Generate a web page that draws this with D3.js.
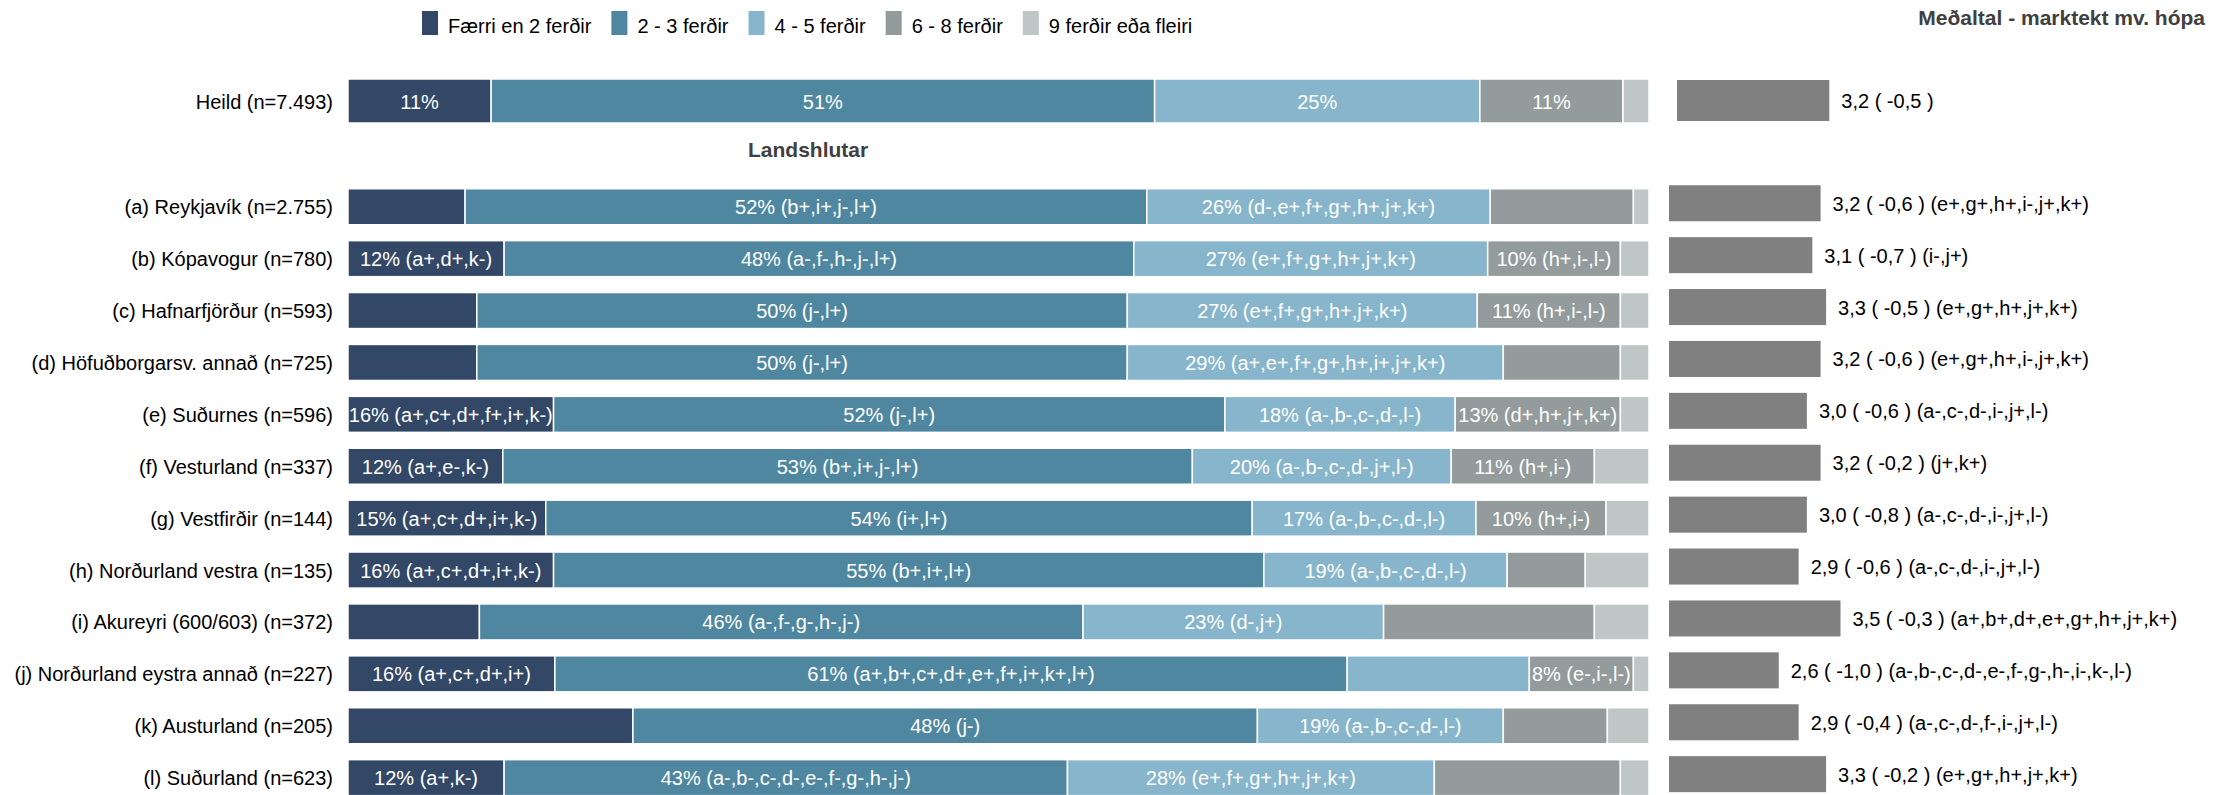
<!DOCTYPE html>
<html>
<head>
<meta charset="utf-8">
<script src="https://d3js.org/d3.v7.min.js"></script>
<style>
body { margin: 0; background: #fff; overflow: hidden; }
text { font-family: "Liberation Sans", Arial, sans-serif; }
</style>
</head>
<body>
<svg id="chart" width="2220" height="795"></svg>
<script>
// categories of the stacked bars
var categories = ["Færri en 2 ferðir", "2 - 3 ferðir", "4 - 5 ferðir", "6 - 8 ferðir", "9 ferðir eða fleiri"];

var heildLabel = "Heild (n=7.493)";
var heildShares = [11, 51, 25, 11, 2];
var heildNotes = ["", "", "", "", null];
var heildMean = 3.22;
var heildChange = -0.5;

var rowLabels = [
	"(a) Reykjavík (n=2.755)",
	"(b) Kópavogur (n=780)",
	"(c) Hafnarfjörður (n=593)",
	"(d) Höfuðborgarsv. annað (n=725)",
	"(e) Suðurnes (n=596)",
	"(f) Vesturland (n=337)",
	"(g) Vestfirðir (n=144)",
	"(h) Norðurland vestra (n=135)",
	"(i) Akureyri (600/603) (n=372)",
	"(j) Norðurland eystra annað (n=227)",
	"(k) Austurland (n=205)",
	"(l) Suðurland (n=623)"
];

// percent per category, one row per region
var shares = [
	[9.0, 52.4, 26.4, 11.0, 1.2],
	[12.0, 48.4, 27.2, 10.2, 2.2],
	[9.9, 50.0, 26.9, 11.0, 2.2],
	[9.9, 50.0, 28.9, 9.0, 2.2],
	[15.8, 51.6, 17.7, 12.7, 2.2],
	[11.9, 53.0, 19.9, 11.0, 4.2],
	[15.2, 54.3, 17.2, 10.0, 3.3],
	[15.8, 54.6, 18.7, 6.0, 4.9],
	[10.1, 46.4, 23.1, 16.2, 4.2],
	[15.9, 60.9, 14.0, 8.0, 1.2],
	[21.9, 48.0, 18.9, 8.0, 3.2],
	[12.0, 43.3, 28.2, 14.3, 2.2]
];

// significance notes inside segments (null = no label)
var segNotes = [
	[null, "(b+,i+,j-,l+)", "(d-,e+,f+,g+,h+,j+,k+)", null, null],
	["(a+,d+,k-)", "(a-,f-,h-,j-,l+)", "(e+,f+,g+,h+,j+,k+)", "(h+,i-,l-)", null],
	[null, "(j-,l+)", "(e+,f+,g+,h+,j+,k+)", "(h+,i-,l-)", null],
	[null, "(j-,l+)", "(a+,e+,f+,g+,h+,i+,j+,k+)", null, null],
	["(a+,c+,d+,f+,i+,k-)", "(j-,l+)", "(a-,b-,c-,d-,l-)", "(d+,h+,j+,k+)", null],
	["(a+,e-,k-)", "(b+,i+,j-,l+)", "(a-,b-,c-,d-,j+,l-)", "(h+,i-)", null],
	["(a+,c+,d+,i+,k-)", "(i+,l+)", "(a-,b-,c-,d-,l-)", "(h+,i-)", null],
	["(a+,c+,d+,i+,k-)", "(b+,i+,l+)", "(a-,b-,c-,d-,l-)", null, null],
	[null, "(a-,f-,g-,h-,j-)", "(d-,j+)", null, null],
	["(a+,c+,d+,i+)", "(a+,b+,c+,d+,e+,f+,i+,k+,l+)", null, "(e-,i-,l-)", null],
	[null, "(j-)", "(a-,b-,c-,d-,l-)", null, null],
	["(a+,k-)", "(a-,b-,c-,d-,e-,f-,g-,h-,j-)", "(e+,f+,g+,h+,j+,k+)", null, null]
];

var means = [3.21, 3.09, 3.29, 3.21, 3.01, 3.21, 3.01, 2.89, 3.50, 2.60, 2.89, 3.29];
var meanChanges = [-0.6, -0.7, -0.5, -0.6, -0.6, -0.2, -0.8, -0.6, -0.3, -1.0, -0.4, -0.2];
var meanNotes = [
	"(e+,g+,h+,i-,j+,k+)",
	"(i-,j+)",
	"(e+,g+,h+,j+,k+)",
	"(e+,g+,h+,i-,j+,k+)",
	"(a-,c-,d-,i-,j+,l-)",
	"(j+,k+)",
	"(a-,c-,d-,i-,j+,l-)",
	"(a-,c-,d-,i-,j+,l-)",
	"(a+,b+,d+,e+,g+,h+,j+,k+)",
	"(a-,b-,c-,d-,e-,f-,g-,h-,i-,k-,l-)",
	"(a-,c-,d-,f-,i-,j+,l-)",
	"(e+,g+,h+,j+,k+)"
];

var colors = ["#334767", "#4f87a1", "#87b5cb", "#949b9c", "#bfc7c6"];
var meanColor = "#808080";

var svg = d3.select("#chart");

var x = d3.scaleLinear().domain([0, 100]).range([348, 1649]);
var xm = d3.scaleLinear().domain([1, 5]).range([0, 274.4]);
var y = d3.scaleBand()
	.domain(rowLabels)
	.range([180.8, 803.6])
	.paddingInner(0.306)
	.paddingOuter(0.153);
var yHeild = d3.scaleBand().domain([heildLabel]).range([79, 123]);

function fmt(v) { return v.toFixed(1).replace(".", ","); }

function drawRow(label, vals, notes, top, h, mean, change, note, meanLeft, meanTop, meanH) {
	var g = svg.append("g");
	var acc = 0;
	var segs = vals.map(function(v, i) {
		var s = {x0: acc, x1: acc + v, v: v, i: i, note: notes[i]};
		acc += v;
		return s;
	});
	g.append("text")
		.attr("x", 333)
		.attr("y", top + h / 2 + 7.5)
		.attr("text-anchor", "end")
		.style("font-size", "20px")
		.style("fill", "#000")
		.text(label);
	g.selectAll("rect.seg")
		.data(segs)
		.enter()
		.append("rect")
		.attr("class", "seg")
		.attr("x", d => x(d.x0))
		.attr("width", d => x(d.x1) - x(d.x0))
		.attr("y", top)
		.attr("height", h)
		.attr("fill", d => colors[d.i])
		.attr("stroke", "#fff")
		.attr("stroke-width", 1.5);
	g.selectAll("text.seg")
		.data(segs.filter(d => d.note !== null))
		.enter()
		.append("text")
		.attr("class", "seg")
		.attr("x", d => (x(d.x0) + x(d.x1)) / 2)
		.attr("y", top + h / 2 + 7.5)
		.attr("text-anchor", "middle")
		.style("font-size", "20px")
		.style("fill", "#fff")
		.text(d => Math.round(d.v) + "%" + (d.note ? " " + d.note : ""));
	// mean bar on the right
	g.append("rect")
		.attr("x", meanLeft)
		.attr("y", meanTop)
		.attr("width", xm(mean))
		.attr("height", meanH)
		.attr("fill", meanColor);
	g.append("text")
		.attr("x", meanLeft + xm(mean) + 12)
		.attr("y", meanTop + meanH / 2 + 7.5)
		.style("font-size", "20px")
		.style("fill", "#000")
		.text(fmt(mean) + " ( " + fmt(change) + " )" + (note ? " " + note : ""));
}

drawRow(heildLabel, heildShares, heildNotes, yHeild(heildLabel), yHeild.bandwidth(),
	heildMean, heildChange, "", 1677, 80, 41);

rowLabels.forEach(function(lab, i) {
	drawRow(lab, shares[i], segNotes[i], y(lab), y.bandwidth(),
		means[i], meanChanges[i], meanNotes[i], 1669, y(lab) - 3.5, y.bandwidth());
});

// Legend
var lx = 422;
categories.forEach(function(c, i) {
	svg.append("rect")
		.attr("x", lx)
		.attr("y", 11)
		.attr("width", 16)
		.attr("height", 24)
		.attr("fill", colors[i]);
	var t = svg.append("text")
		.attr("x", lx + 26)
		.attr("y", 33)
		.style("font-size", "20px")
		.style("fill", "#000")
		.text(c);
	lx += 26 + t.node().getComputedTextLength() + 20;
});

svg.append("text")
	.attr("x", 2205)
	.attr("y", 25)
	.attr("text-anchor", "end")
	.style("font-size", "21px")
	.style("font-weight", "bold")
	.style("fill", "#404040")
	.text("Meðaltal - marktekt mv. hópa");

svg.append("text")
	.attr("x", 748)
	.attr("y", 157)
	.style("font-size", "21px")
	.style("font-weight", "bold")
	.style("fill", "#404040")
	.text("Landshlutar");
</script>
</body>
</html>
